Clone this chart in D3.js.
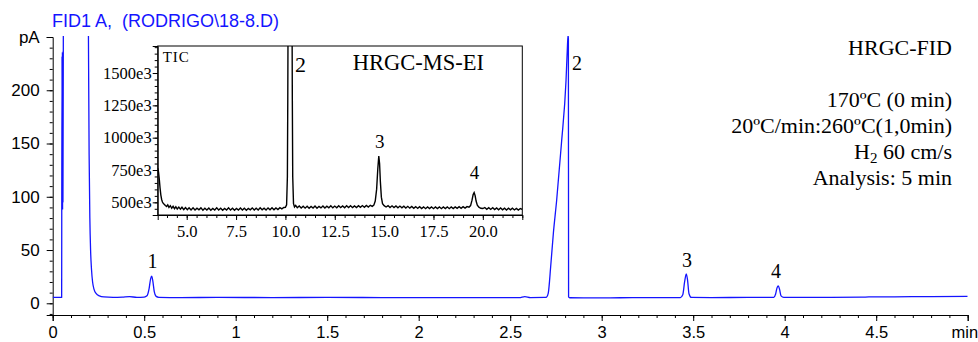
<!DOCTYPE html>
<html>
<head>
<meta charset="utf-8">
<script src="https://cdn.jsdelivr.net/npm/d3@7"></script>
<style>
body { margin: 0; background: #fff; }
svg { display: block; }
</style>
</head>
<body>
<svg id="chart"></svg>
<script>
// FID trace: [time (min), signal (pA)]
const FID_TRACE = [
    [0.000, 5.5], [0.046, 5.5], [0.049, 5.6], [0.0495, 86], [0.051, 232], [0.052, 90],
    [0.053, 236], [0.054, 88], [0.055, 234], [0.056, 95], [0.058, 240], [0.059, 420],
    [0.12, 440], [0.19, 420], [0.195, 260], [0.199, 140], [0.203, 80], [0.207, 50],
    [0.212, 32], [0.218, 20], [0.226, 13], [0.238, 9], [0.255, 7], [0.28, 6],
    [0.33, 5.6], [0.38, 5.8], [0.42, 6.2], [0.46, 5.6], [0.50, 5.8], [0.515, 7],
    [0.527, 14], [0.535, 23], [0.541, 25.5], [0.547, 21], [0.555, 11], [0.565, 6.5],
    [0.58, 5.6], [0.70, 5.4], [0.90, 5.5], [1.20, 5.4], [1.50, 5.5], [1.80, 5.4],
    [2.10, 5.3], [2.40, 5.4], [2.55, 5.3], [2.58, 6.3], [2.61, 5.4], [2.69, 5.5],
    [2.699, 5.8], [2.708, 9.5], [2.721, 34], [2.736, 66], [2.754, 97], [2.78, 150],
    [2.805, 209], [2.812, 238], [2.816, 252], [2.818, 248], [2.819, 6], [2.825, 5.2],
    [2.9, 5.1], [3.1, 5.2], [3.3, 5.3], [3.43, 5.3], [3.443, 8], [3.453, 20],
    [3.462, 27.6], [3.469, 22], [3.477, 9], [3.49, 5.5], [3.6, 5.4], [3.8, 5.5],
    [3.94, 5.5], [3.95, 8.5], [3.958, 14.5], [3.965, 16.4], [3.972, 13], [3.98, 7],
    [3.995, 5.6], [4.2, 5.6], [4.42, 5.7], [4.46, 6.0], [4.6, 6.1], [4.8, 6.3], [5.0, 6.4]
];

// TIC trace of the inset: [time (min), counts (x 1e3)]
const TIC_TRACE = [
    [3.53, 765], [3.57, 735], [3.61, 680], [3.65, 610], [3.69, 556], [3.73, 522], [3.77, 502],
    [3.82, 490], [3.87, 484], [3.92, 476], [3.98, 468], [4.04, 480], [4.1, 460], [4.17, 474],
    [4.24, 454], [4.31, 469], [4.38, 451], [4.45, 466], [4.52, 448], [4.6, 463], [4.68, 447],
    [4.76, 462], [4.85, 444], [4.94, 459], [5.03, 443], [5.12, 458], [5.22, 441], [5.32, 457],
    [5.42, 440], [5.52, 455], [5.62, 442], [5.72, 457], [5.82, 439], [5.92, 454], [6.02, 441],
    [6.12, 456], [6.22, 439], [6.32, 453], [6.42, 440], [6.52, 457], [6.62, 441], [6.72, 454],
    [6.82, 438], [6.92, 453], [7.02, 441], [7.12, 458], [7.22, 440], [7.32, 454], [7.42, 439],
    [7.52, 453], [7.62, 441], [7.72, 456], [7.82, 440], [7.92, 454], [8.02, 439], [8.12, 453],
    [8.22, 442], [8.32, 457], [8.42, 440], [8.52, 454], [8.62, 441], [8.72, 458], [8.82, 442],
    [8.92, 455], [9.02, 441], [9.12, 457], [9.22, 443], [9.32, 458], [9.42, 442], [9.52, 457],
    [9.62, 444], [9.72, 459], [9.82, 449], [9.92, 460], [10.0, 462], [10.06, 480], [10.1, 700],
    [10.12, 1300], [10.14, 2200], [10.33, 2200], [10.35, 1300], [10.37, 700], [10.41, 490],
    [10.46, 464], [10.52, 476], [10.6, 458], [10.7, 472], [10.8, 456], [10.9, 470], [11.0, 455],
    [11.1, 469], [11.2, 454], [11.3, 468], [11.4, 456], [11.5, 471], [11.6, 455], [11.7, 469],
    [11.8, 457], [11.9, 472], [12.0, 456], [12.1, 470], [12.2, 458], [12.3, 473], [12.4, 457],
    [12.5, 471], [12.6, 458], [12.7, 474], [12.8, 459], [12.9, 472], [13.0, 458], [13.1, 473],
    [13.2, 460], [13.3, 474], [13.4, 459], [13.5, 472], [13.6, 460], [13.7, 474], [13.8, 461],
    [13.9, 475], [14.0, 462], [14.1, 476], [14.2, 464], [14.3, 477], [14.4, 469], [14.48, 478],
    [14.55, 510], [14.62, 600], [14.68, 760], [14.73, 858], [14.77, 800], [14.81, 660],
    [14.86, 540], [14.92, 490], [15.0, 474], [15.1, 464], [15.2, 475], [15.3, 460], [15.4, 473],
    [15.5, 459], [15.6, 472], [15.7, 458], [15.8, 471], [15.9, 457], [16.0, 470], [16.1, 456],
    [16.2, 469], [16.3, 455], [16.4, 468], [16.5, 454], [16.6, 467], [16.7, 453], [16.8, 466],
    [16.9, 452], [17.0, 465], [17.1, 451], [17.2, 464], [17.3, 452], [17.4, 465], [17.5, 451],
    [17.6, 464], [17.7, 452], [17.8, 465], [17.9, 451], [18.0, 464], [18.1, 452], [18.2, 465],
    [18.3, 451], [18.4, 464], [18.5, 452], [18.6, 465], [18.7, 453], [18.8, 466], [18.9, 454],
    [19.0, 467], [19.1, 455], [19.2, 467], [19.3, 463], [19.38, 475], [19.45, 515], [19.51, 560],
    [19.56, 575], [19.61, 552], [19.66, 510], [19.72, 478], [19.8, 462], [19.9, 454], [20.0, 452],
    [20.1, 460], [20.2, 446], [20.3, 459], [20.4, 445], [20.5, 458], [20.6, 444], [20.7, 457],
    [20.8, 443], [20.9, 456], [21.0, 442], [21.1, 455], [21.2, 441], [21.3, 454], [21.4, 442],
    [21.5, 455], [21.6, 441], [21.7, 453], [21.8, 440], [21.9, 452], [22.0, 445]
];

const X_TICKS = [0, 0.5, 1, 1.5, 2, 2.5, 3, 3.5, 4, 4.5, 5];
const X_TICK_LABELS = ["0", "0.5", "1", "1.5", "2", "2.5", "3", "3.5", "4", "4.5", "min"];
const Y_TICKS = [0, 50, 100, 150, 200, 250];
const Y_TICK_LABELS = ["0", "50", "100", "150", "200", "pA"];

const TIC_X_TICKS = [5, 7.5, 10, 12.5, 15, 17.5, 20];
const TIC_Y_TICKS = [500, 750, 1000, 1250, 1500];

// peak labels, anchored in data units
const FID_PEAK_LABELS = ["1", "2", "3", "4"];
const FID_PEAK_T = [0.545, 2.838, 3.466, 3.952];
const FID_PEAK_V = [33, 219, 34, 24];
const TIC_PEAK_LABELS = ["2", "3", "4"];
const TIC_PEAK_T = [10.48, 14.78, 19.58];
const TIC_PEAK_V = [1508, 920, 680];

const TITLE = "FID1 A,  (RODRIGO\\18-8.D)";
const METHOD_LINES = ["170ºC (0 min)", "20ºC/min:260ºC(1,0min)", "H2 60 cm/s", "Analysis: 5 min"];

const SANS = "'Liberation Sans', Arial, Helvetica, sans-serif";
const SERIF = "'Liberation Serif', 'Times New Roman', serif";
const BLUE = "#1414ff";

const margin = {top: 37, right: 10.3, bottom: 27, left: 52.7},
    width = 978 - margin.left - margin.right,
    height = 342 - margin.top - margin.bottom;

const x = d3.scaleLinear().domain([0, 5]).range([0, width]);
const y = d3.scaleLinear().domain([-11, 250]).range([height, 0]);

const svg = d3.select("#chart")
    .attr("width", 978)
    .attr("height", 342);

const g = svg.append("g")
    .attr("transform", "translate(" + margin.left + "," + margin.top + ")");

svg.append("defs").append("clipPath")
    .attr("id", "clip-main")
    .append("rect")
    .attr("x", 0).attr("y", -1)
    .attr("width", width).attr("height", height + 1);

// minor ticks first, then major axes on top
g.append("g")
    .attr("transform", "translate(0," + height + ")")
    .call(d3.axisBottom(x).tickValues(d3.range(0, 50.5, 1).map(d => d / 10)).tickSize(3).tickFormat(""))
    .call(a => a.select(".domain").remove());

g.append("g")
    .call(d3.axisLeft(y).tickValues(d3.range(-10, 251, 10)).tickSize(3).tickFormat(""))
    .call(a => a.select(".domain").remove());

const xAxis = g.append("g")
    .attr("transform", "translate(0," + height + ")")
    .call(d3.axisBottom(x).tickValues(X_TICKS).tickSizeOuter(0).tickSize(6).tickPadding(5)
        .tickFormat((d, i) => X_TICK_LABELS[i]));

xAxis.attr("font-family", SANS).attr("font-size", 16.5);
xAxis.selectAll(".tick text").attr("fill", "#000");
// "min" sits against the right edge
xAxis.selectAll(".tick text").filter((d, i) => i === X_TICKS.length - 1)
    .attr("text-anchor", "end").attr("dx", 10);

const yAxis = g.append("g")
    .call(d3.axisLeft(y).tickValues(Y_TICKS).tickSizeOuter(0).tickSize(6).tickPadding(7)
        .tickFormat((d, i) => Y_TICK_LABELS[i]));

yAxis.attr("font-family", SANS).attr("font-size", 17);
yAxis.selectAll(".tick text").attr("fill", "#000");

const fidLine = d3.line()
    .x(d => x(d[0]))
    .y(d => y(d[1]))
    .curve(d3.curveMonotoneX);

g.append("path")
    .datum(FID_TRACE)
    .attr("clip-path", "url(#clip-main)")
    .attr("fill", "none")
    .attr("stroke", BLUE)
    .attr("stroke-width", 1.3)
    .attr("d", fidLine);

g.selectAll("text.fid-peak")
    .data(FID_PEAK_LABELS)
    .enter().append("text")
    .attr("class", "fid-peak")
    .attr("x", (d, i) => x(FID_PEAK_T[i]))
    .attr("y", (d, i) => y(FID_PEAK_V[i]))
    .attr("text-anchor", (d, i) => i === 1 ? "start" : "middle")
    .attr("font-family", SERIF)
    .attr("font-size", 20)
    .text(d => d);

svg.append("text")
    .attr("x", 52)
    .attr("y", 27)
    .attr("font-family", SANS)
    .attr("font-size", 18)
    .attr("fill", BLUE)
    .style("white-space", "pre")
    .text(TITLE);

// method block on the right
const method = svg.append("g")
    .attr("font-family", SERIF)
    .attr("font-size", 22)
    .attr("text-anchor", "end");

method.append("text").attr("x", 952).attr("y", 55).text("HRGC-FID");

METHOD_LINES.forEach(function (line, i)
{
    const t = method.append("text").attr("x", 952).attr("y", 107 + i * 26);
    if (line.startsWith("H2"))
    {
        t.append("tspan").text("H");
        t.append("tspan").attr("font-size", 15).attr("dy", 4).text("2");
        t.append("tspan").attr("dy", -4).text(line.slice(2));
    }
    else
    {
        t.text(line);
    }
});

// ---- inset: HRGC-MS-EI total ion chromatogram ----
const inset = {x: 157.7, y: 46, w: 364.6, h: 169};

const ix = d3.scaleLinear().domain([3.53, 22]).range([0, inset.w]);
const iy = d3.scaleLinear().domain([402, 1709]).range([inset.h, 0]);

const ig = svg.append("g")
    .attr("transform", "translate(" + inset.x + "," + inset.y + ")");

svg.select("defs").append("clipPath")
    .attr("id", "clip-inset")
    .append("rect")
    .attr("width", inset.w).attr("height", inset.h);

ig.append("rect")
    .attr("width", inset.w)
    .attr("height", inset.h)
    .attr("fill", "#fff");

ig.append("g")
    .attr("transform", "translate(0," + inset.h + ")")
    .call(d3.axisBottom(ix).tickValues(d3.range(8, 45, 1).map(d => d / 2)).tickSize(3).tickFormat(""))
    .call(a => a.select(".domain").remove());

ig.append("g")
    .call(d3.axisLeft(iy).tickValues(d3.range(450, 1701, 50)).tickSize(3).tickFormat(""))
    .call(a => a.select(".domain").remove());

const ixAxis = ig.append("g")
    .attr("transform", "translate(0," + inset.h + ")")
    .call(d3.axisBottom(ix).tickValues(TIC_X_TICKS).tickSizeOuter(0).tickSize(5).tickPadding(5)
        .tickFormat(d3.format(".1f")));

const iyAxis = ig.append("g")
    .call(d3.axisLeft(iy).tickValues(TIC_Y_TICKS).tickSizeOuter(0).tickSize(5).tickPadding(1)
        .tickFormat(d => d + "e3"));

[ixAxis, iyAxis].forEach(a =>
{
    a.attr("font-family", SERIF).attr("font-size", 16.5);
    a.selectAll(".tick text").attr("fill", "#000");
});

ig.append("path")
    .datum(TIC_TRACE)
    .attr("clip-path", "url(#clip-inset)")
    .attr("fill", "none")
    .attr("stroke", "#000")
    .attr("stroke-width", 1.4)
    .attr("d", d3.line().x(d => ix(d[0])).y(d => iy(d[1])));

ig.append("rect")
    .attr("width", inset.w)
    .attr("height", inset.h)
    .attr("fill", "none")
    .attr("stroke", "#000")
    .attr("stroke-width", 1);

ig.append("text")
    .attr("x", 5)
    .attr("y", 16)
    .attr("font-family", SERIF)
    .attr("font-size", 15)
    .attr("letter-spacing", 1)
    .text("TIC");

ig.append("text")
    .attr("x", 195)
    .attr("y", 24)
    .attr("font-family", SERIF)
    .attr("font-size", 22.5)
    .text("HRGC-MS-EI");

ig.selectAll("text.tic-peak")
    .data(TIC_PEAK_LABELS)
    .enter().append("text")
    .attr("class", "tic-peak")
    .attr("x", (d, i) => ix(TIC_PEAK_T[i]))
    .attr("y", (d, i) => iy(TIC_PEAK_V[i]))
    .attr("text-anchor", (d, i) => i === 0 ? "start" : "middle")
    .attr("font-family", SERIF)
    .attr("font-size", (d, i) => i === 0 ? 22 : 19)
    .text(d => d);
</script>
</body>
</html>
